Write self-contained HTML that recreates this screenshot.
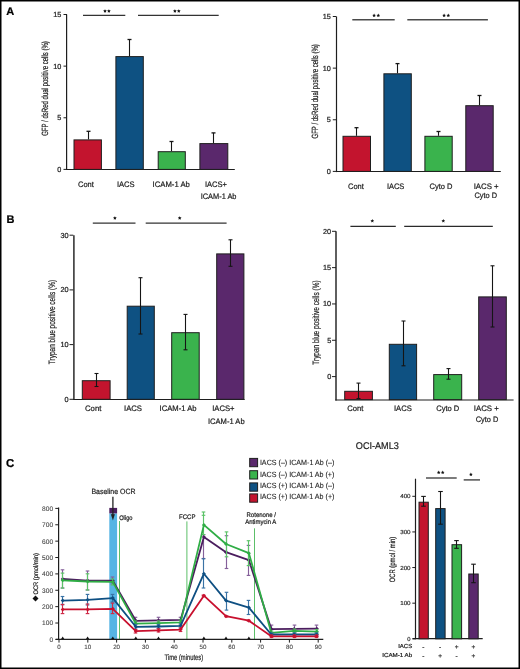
<!DOCTYPE html><html><head><meta charset="utf-8"><style>html,body{margin:0;padding:0;background:#fff;}svg{display:block;will-change:transform;}text{font-family:"Liberation Sans", sans-serif;text-rendering:geometricPrecision;stroke:currentColor;stroke-width:0.22px;}</style></head><body>
<svg width="520" height="669" viewBox="0 0 520 669">
<rect x="0" y="0" width="520" height="669" fill="#fff"/>
<text x="6.2" y="15.4" font-size="11" text-anchor="start" font-weight="bold" fill="#000" color="#000">A</text>
<text x="6.6" y="223.0" font-size="11" text-anchor="start" font-weight="bold" fill="#000" color="#000">B</text>
<text x="6.0" y="467.0" font-size="11.4" text-anchor="start" font-weight="bold" fill="#000" color="#000">C</text>
<line x1="66.6" y1="14.5" x2="66.6" y2="170.1" stroke="#1e1e1e" stroke-width="1.2"/>
<line x1="66" y1="169.5" x2="234.8" y2="169.5" stroke="#1e1e1e" stroke-width="1.15"/>
<line x1="63.5" y1="169.4" x2="67.0" y2="169.4" stroke="#1e1e1e" stroke-width="1"/>
<text x="61.4" y="171.9" font-size="7.3" text-anchor="end" font-weight="normal" fill="#1e1e1e" color="#1e1e1e">0</text>
<line x1="63.5" y1="117.76666666666668" x2="67.0" y2="117.76666666666668" stroke="#1e1e1e" stroke-width="1"/>
<text x="61.4" y="120.26666666666668" font-size="7.3" text-anchor="end" font-weight="normal" fill="#1e1e1e" color="#1e1e1e">5</text>
<line x1="63.5" y1="66.13333333333334" x2="67.0" y2="66.13333333333334" stroke="#1e1e1e" stroke-width="1"/>
<text x="61.4" y="68.63333333333334" font-size="7.3" text-anchor="end" font-weight="normal" fill="#1e1e1e" color="#1e1e1e">10</text>
<line x1="63.5" y1="14.5" x2="67.0" y2="14.5" stroke="#1e1e1e" stroke-width="1"/>
<text x="61.4" y="17.0" font-size="7.3" text-anchor="end" font-weight="normal" fill="#1e1e1e" color="#1e1e1e">15</text>
<rect x="74.0" y="139.9" width="27.400000000000006" height="29.5" fill="#C3142E" stroke="#1e1e1e" stroke-width="1"/>
<line x1="88.5" y1="131.3" x2="88.5" y2="139.4" stroke="#151515" stroke-width="1.1"/>
<line x1="86.5" y1="131.3" x2="90.5" y2="131.3" stroke="#151515" stroke-width="1.3"/>
<rect x="115.9" y="56.6" width="27.400000000000006" height="112.80000000000001" fill="#0E5182" stroke="#1e1e1e" stroke-width="1"/>
<line x1="129.5" y1="39.5" x2="129.5" y2="56.1" stroke="#151515" stroke-width="1.1"/>
<line x1="127.5" y1="39.5" x2="131.5" y2="39.5" stroke="#151515" stroke-width="1.3"/>
<rect x="158.2" y="151.7" width="27.100000000000023" height="17.700000000000017" fill="#3AB34D" stroke="#1e1e1e" stroke-width="1"/>
<line x1="171.5" y1="141.5" x2="171.5" y2="151.2" stroke="#151515" stroke-width="1.1"/>
<line x1="169.5" y1="141.5" x2="173.5" y2="141.5" stroke="#151515" stroke-width="1.3"/>
<rect x="199.9" y="143.6" width="27.900000000000006" height="25.80000000000001" fill="#5A286C" stroke="#1e1e1e" stroke-width="1"/>
<line x1="213.5" y1="132.9" x2="213.5" y2="143.1" stroke="#151515" stroke-width="1.1"/>
<line x1="211.5" y1="132.9" x2="215.5" y2="132.9" stroke="#151515" stroke-width="1.3"/>
<text x="85.9" y="186.8" font-size="7.9" text-anchor="middle" font-weight="normal" fill="#1e1e1e" color="#1e1e1e" textLength="15.8" lengthAdjust="spacingAndGlyphs">Cont</text>
<text x="125.8" y="186.8" font-size="7.9" text-anchor="middle" font-weight="normal" fill="#1e1e1e" color="#1e1e1e" textLength="17.7" lengthAdjust="spacingAndGlyphs">IACS</text>
<text x="171.2" y="186.8" font-size="7.9" text-anchor="middle" font-weight="normal" fill="#1e1e1e" color="#1e1e1e" textLength="37.2" lengthAdjust="spacingAndGlyphs">ICAM-1 Ab</text>
<text x="216" y="186.8" font-size="7.9" text-anchor="middle" font-weight="normal" fill="#1e1e1e" color="#1e1e1e" textLength="22" lengthAdjust="spacingAndGlyphs">IACS+</text>
<text x="218.6" y="198.7" font-size="7.9" text-anchor="middle" font-weight="normal" fill="#1e1e1e" color="#1e1e1e" textLength="35.8" lengthAdjust="spacingAndGlyphs">ICAM-1 Ab</text>
<line x1="83" y1="15.4" x2="125.3" y2="15.4" stroke="#333" stroke-width="1.2"/>
<line x1="138" y1="15.4" x2="218.7" y2="15.4" stroke="#333" stroke-width="1.2"/>
<path d="M105.00,9.20 L105.56,10.33 L106.81,10.51 L105.90,11.39 L106.12,12.64 L105.00,12.05 L103.88,12.64 L104.10,11.39 L103.19,10.51 L104.44,10.33 Z" fill="#111"/>
<path d="M108.90,9.20 L109.46,10.33 L110.71,10.51 L109.80,11.39 L110.02,12.64 L108.90,12.05 L107.78,12.64 L108.00,11.39 L107.09,10.51 L108.34,10.33 Z" fill="#111"/>
<path d="M174.90,9.20 L175.46,10.33 L176.71,10.51 L175.80,11.39 L176.02,12.64 L174.90,12.05 L173.78,12.64 L174.00,11.39 L173.09,10.51 L174.34,10.33 Z" fill="#111"/>
<path d="M178.80,9.20 L179.36,10.33 L180.61,10.51 L179.70,11.39 L179.92,12.64 L178.80,12.05 L177.68,12.64 L177.90,11.39 L176.99,10.51 L178.24,10.33 Z" fill="#111"/>
<text transform="translate(47.6,88.5) rotate(-90)" font-size="9.0" text-anchor="middle" font-weight="normal" fill="#1e1e1e" color="#1e1e1e" textLength="94.7" lengthAdjust="spacingAndGlyphs">GFP / dsRed dual positive cells (%)</text>
<line x1="336.5" y1="16.5" x2="336.5" y2="172.1" stroke="#1e1e1e" stroke-width="1.2"/>
<line x1="336" y1="171.5" x2="500.8" y2="171.5" stroke="#1e1e1e" stroke-width="1.15"/>
<line x1="332.8" y1="171.4" x2="336.3" y2="171.4" stroke="#1e1e1e" stroke-width="1"/>
<text x="330.9" y="173.9" font-size="7.3" text-anchor="end" font-weight="normal" fill="#1e1e1e" color="#1e1e1e">0</text>
<line x1="332.8" y1="119.76666666666668" x2="336.3" y2="119.76666666666668" stroke="#1e1e1e" stroke-width="1"/>
<text x="330.9" y="122.26666666666668" font-size="7.3" text-anchor="end" font-weight="normal" fill="#1e1e1e" color="#1e1e1e">5</text>
<line x1="332.8" y1="68.13333333333334" x2="336.3" y2="68.13333333333334" stroke="#1e1e1e" stroke-width="1"/>
<text x="330.9" y="70.63333333333334" font-size="7.3" text-anchor="end" font-weight="normal" fill="#1e1e1e" color="#1e1e1e">10</text>
<line x1="332.8" y1="16.5" x2="336.3" y2="16.5" stroke="#1e1e1e" stroke-width="1"/>
<text x="330.9" y="19.0" font-size="7.3" text-anchor="end" font-weight="normal" fill="#1e1e1e" color="#1e1e1e">15</text>
<rect x="343.0" y="136.3" width="27.5" height="35.099999999999994" fill="#C3142E" stroke="#1e1e1e" stroke-width="1"/>
<line x1="356.5" y1="127.7" x2="356.5" y2="135.8" stroke="#151515" stroke-width="1.1"/>
<line x1="354.5" y1="127.7" x2="358.5" y2="127.7" stroke="#151515" stroke-width="1.3"/>
<rect x="383.9" y="73.8" width="27.400000000000034" height="97.60000000000001" fill="#0E5182" stroke="#1e1e1e" stroke-width="1"/>
<line x1="397.5" y1="63.6" x2="397.5" y2="73.3" stroke="#151515" stroke-width="1.1"/>
<line x1="395.5" y1="63.6" x2="399.5" y2="63.6" stroke="#151515" stroke-width="1.3"/>
<rect x="424.9" y="136.3" width="27.30000000000001" height="35.099999999999994" fill="#3AB34D" stroke="#1e1e1e" stroke-width="1"/>
<line x1="438.5" y1="131.5" x2="438.5" y2="135.8" stroke="#151515" stroke-width="1.1"/>
<line x1="436.5" y1="131.5" x2="440.5" y2="131.5" stroke="#151515" stroke-width="1.3"/>
<rect x="465.8" y="105.7" width="27.399999999999977" height="65.7" fill="#5A286C" stroke="#1e1e1e" stroke-width="1"/>
<line x1="479.5" y1="95.5" x2="479.5" y2="105.2" stroke="#151515" stroke-width="1.1"/>
<line x1="477.5" y1="95.5" x2="481.5" y2="95.5" stroke="#151515" stroke-width="1.3"/>
<text x="355.9" y="188.9" font-size="7.9" text-anchor="middle" font-weight="normal" fill="#1e1e1e" color="#1e1e1e" textLength="15.8" lengthAdjust="spacingAndGlyphs">Cont</text>
<text x="395.6" y="188.9" font-size="7.9" text-anchor="middle" font-weight="normal" fill="#1e1e1e" color="#1e1e1e" textLength="17.4" lengthAdjust="spacingAndGlyphs">IACS</text>
<text x="441" y="188.9" font-size="7.9" text-anchor="middle" font-weight="normal" fill="#1e1e1e" color="#1e1e1e" textLength="23" lengthAdjust="spacingAndGlyphs">Cyto D</text>
<text x="486.2" y="188.9" font-size="7.9" text-anchor="middle" font-weight="normal" fill="#1e1e1e" color="#1e1e1e" textLength="25" lengthAdjust="spacingAndGlyphs">IACS +</text>
<text x="485.8" y="198.3" font-size="7.9" text-anchor="middle" font-weight="normal" fill="#1e1e1e" color="#1e1e1e" textLength="22.5" lengthAdjust="spacingAndGlyphs">Cyto D</text>
<line x1="352.3" y1="19.85" x2="394.7" y2="19.85" stroke="#4a4a4a" stroke-width="1.5"/>
<line x1="407.3" y1="19.85" x2="487.9" y2="19.85" stroke="#4a4a4a" stroke-width="1.5"/>
<path d="M374.10,13.60 L374.66,14.73 L375.91,14.91 L375.00,15.79 L375.22,17.04 L374.10,16.45 L372.98,17.04 L373.20,15.79 L372.29,14.91 L373.54,14.73 Z" fill="#111"/>
<path d="M378.30,13.60 L378.86,14.73 L380.11,14.91 L379.20,15.79 L379.42,17.04 L378.30,16.45 L377.18,17.04 L377.40,15.79 L376.49,14.91 L377.74,14.73 Z" fill="#111"/>
<path d="M444.10,13.60 L444.66,14.73 L445.91,14.91 L445.00,15.79 L445.22,17.04 L444.10,16.45 L442.98,17.04 L443.20,15.79 L442.29,14.91 L443.54,14.73 Z" fill="#111"/>
<path d="M448.30,13.60 L448.86,14.73 L450.11,14.91 L449.20,15.79 L449.42,17.04 L448.30,16.45 L447.18,17.04 L447.40,15.79 L446.49,14.91 L447.74,14.73 Z" fill="#111"/>
<text transform="translate(318.2,91.4) rotate(-90)" font-size="9.0" text-anchor="middle" font-weight="normal" fill="#1e1e1e" color="#1e1e1e" textLength="94.2" lengthAdjust="spacingAndGlyphs">GFP / dsRed dual positive cells (%)</text>
<line x1="73.9" y1="235.2" x2="73.9" y2="400.1" stroke="#2a2a2a" stroke-width="1.5"/>
<line x1="73.2" y1="399.5" x2="244.6" y2="399.5" stroke="#1e1e1e" stroke-width="1.2"/>
<line x1="69.5" y1="399.3" x2="73.3" y2="399.3" stroke="#1e1e1e" stroke-width="1"/>
<text x="68.6" y="401.8" font-size="7.3" text-anchor="end" font-weight="normal" fill="#1e1e1e" color="#1e1e1e">0</text>
<line x1="69.5" y1="344.6" x2="73.3" y2="344.6" stroke="#1e1e1e" stroke-width="1"/>
<text x="68.6" y="347.1" font-size="7.3" text-anchor="end" font-weight="normal" fill="#1e1e1e" color="#1e1e1e">10</text>
<line x1="69.5" y1="289.9" x2="73.3" y2="289.9" stroke="#1e1e1e" stroke-width="1"/>
<text x="68.6" y="292.4" font-size="7.3" text-anchor="end" font-weight="normal" fill="#1e1e1e" color="#1e1e1e">20</text>
<line x1="69.5" y1="235.2" x2="73.3" y2="235.2" stroke="#1e1e1e" stroke-width="1"/>
<text x="68.6" y="237.7" font-size="7.3" text-anchor="end" font-weight="normal" fill="#1e1e1e" color="#1e1e1e">30</text>
<rect x="82.3" y="380.7" width="27.799999999999997" height="18.600000000000023" fill="#C3142E" stroke="#1e1e1e" stroke-width="1"/>
<line x1="96.5" y1="373.5" x2="96.5" y2="386.5" stroke="#151515" stroke-width="1.1"/>
<line x1="94.5" y1="373.5" x2="98.5" y2="373.5" stroke="#151515" stroke-width="1.1"/>
<line x1="94.5" y1="386.5" x2="98.5" y2="386.5" stroke="#151515" stroke-width="1.1"/>
<rect x="127.2" y="306.2" width="27.10000000000001" height="93.10000000000002" fill="#0E5182" stroke="#1e1e1e" stroke-width="1"/>
<line x1="140.5" y1="277.7" x2="140.5" y2="334" stroke="#151515" stroke-width="1.1"/>
<line x1="138.5" y1="277.7" x2="142.5" y2="277.7" stroke="#151515" stroke-width="1.1"/>
<line x1="138.5" y1="334" x2="142.5" y2="334" stroke="#151515" stroke-width="1.1"/>
<rect x="171.7" y="332.7" width="27.5" height="66.60000000000002" fill="#3AB34D" stroke="#1e1e1e" stroke-width="1"/>
<line x1="185.5" y1="314.4" x2="185.5" y2="349.8" stroke="#151515" stroke-width="1.1"/>
<line x1="183.5" y1="314.4" x2="187.5" y2="314.4" stroke="#151515" stroke-width="1.1"/>
<line x1="183.5" y1="349.8" x2="187.5" y2="349.8" stroke="#151515" stroke-width="1.1"/>
<rect x="216.7" y="253.9" width="27.200000000000017" height="145.4" fill="#5A286C" stroke="#1e1e1e" stroke-width="1"/>
<line x1="230.5" y1="239.8" x2="230.5" y2="266.3" stroke="#151515" stroke-width="1.1"/>
<line x1="228.5" y1="239.8" x2="232.5" y2="239.8" stroke="#151515" stroke-width="1.1"/>
<line x1="228.5" y1="266.3" x2="232.5" y2="266.3" stroke="#151515" stroke-width="1.1"/>
<text x="93.2" y="411.1" font-size="7.9" text-anchor="middle" font-weight="normal" fill="#1e1e1e" color="#1e1e1e" textLength="16.3" lengthAdjust="spacingAndGlyphs">Cont</text>
<text x="133" y="411.1" font-size="7.9" text-anchor="middle" font-weight="normal" fill="#1e1e1e" color="#1e1e1e" textLength="18" lengthAdjust="spacingAndGlyphs">IACS</text>
<text x="178.1" y="411.1" font-size="7.9" text-anchor="middle" font-weight="normal" fill="#1e1e1e" color="#1e1e1e" textLength="37" lengthAdjust="spacingAndGlyphs">ICAM-1 Ab</text>
<text x="223.4" y="411.1" font-size="7.9" text-anchor="middle" font-weight="normal" fill="#1e1e1e" color="#1e1e1e" textLength="22.3" lengthAdjust="spacingAndGlyphs">IACS+</text>
<text x="226.3" y="423.8" font-size="7.9" text-anchor="middle" font-weight="normal" fill="#1e1e1e" color="#1e1e1e" textLength="36.6" lengthAdjust="spacingAndGlyphs">ICAM-1 Ab</text>
<line x1="92.8" y1="223.2" x2="135.5" y2="223.2" stroke="#333" stroke-width="1.2"/>
<line x1="145.7" y1="223.2" x2="226.6" y2="223.2" stroke="#333" stroke-width="1.2"/>
<path d="M114.90,216.20 L115.46,217.33 L116.71,217.51 L115.80,218.39 L116.02,219.64 L114.90,219.05 L113.78,219.64 L114.00,218.39 L113.09,217.51 L114.34,217.33 Z" fill="#111"/>
<path d="M179.70,216.20 L180.26,217.33 L181.51,217.51 L180.60,218.39 L180.82,219.64 L179.70,219.05 L178.58,219.64 L178.80,218.39 L177.89,217.51 L179.14,217.33 Z" fill="#111"/>
<text transform="translate(54.6,322) rotate(-90)" font-size="9.2" text-anchor="middle" font-weight="normal" fill="#1e1e1e" color="#1e1e1e" textLength="84.3" lengthAdjust="spacingAndGlyphs">Trypan blue positive cells (%)</text>
<line x1="336.0" y1="231.3" x2="336.0" y2="400.6" stroke="#2a2a2a" stroke-width="1.5"/>
<line x1="335.3" y1="400.0" x2="513.6" y2="400.0" stroke="#1e1e1e" stroke-width="1.2"/>
<line x1="332" y1="376.6" x2="336.0" y2="376.6" stroke="#1e1e1e" stroke-width="1"/>
<text x="331.2" y="379.1" font-size="7.3" text-anchor="end" font-weight="normal" fill="#1e1e1e" color="#1e1e1e">0</text>
<line x1="332" y1="340.27500000000003" x2="336.0" y2="340.27500000000003" stroke="#1e1e1e" stroke-width="1"/>
<text x="331.2" y="342.77500000000003" font-size="7.3" text-anchor="end" font-weight="normal" fill="#1e1e1e" color="#1e1e1e">5</text>
<line x1="332" y1="303.95000000000005" x2="336.0" y2="303.95000000000005" stroke="#1e1e1e" stroke-width="1"/>
<text x="331.2" y="306.45000000000005" font-size="7.3" text-anchor="end" font-weight="normal" fill="#1e1e1e" color="#1e1e1e">10</text>
<line x1="332" y1="267.625" x2="336.0" y2="267.625" stroke="#1e1e1e" stroke-width="1"/>
<text x="331.2" y="270.125" font-size="7.3" text-anchor="end" font-weight="normal" fill="#1e1e1e" color="#1e1e1e">15</text>
<line x1="332" y1="231.3" x2="336.0" y2="231.3" stroke="#1e1e1e" stroke-width="1"/>
<text x="331.2" y="233.8" font-size="7.3" text-anchor="end" font-weight="normal" fill="#1e1e1e" color="#1e1e1e">20</text>
<rect x="344.7" y="391.3" width="27.69999999999999" height="8.300000000000011" fill="#C3142E" stroke="#1e1e1e" stroke-width="1"/>
<line x1="358.5" y1="383.1" x2="358.5" y2="398.5" stroke="#151515" stroke-width="1.1"/>
<line x1="356.5" y1="383.1" x2="360.5" y2="383.1" stroke="#151515" stroke-width="1.1"/>
<line x1="356.5" y1="398.5" x2="360.5" y2="398.5" stroke="#151515" stroke-width="1.1"/>
<rect x="389.3" y="344.3" width="27.30000000000001" height="55.30000000000001" fill="#0E5182" stroke="#1e1e1e" stroke-width="1"/>
<line x1="403.5" y1="321" x2="403.5" y2="365.8" stroke="#151515" stroke-width="1.1"/>
<line x1="401.5" y1="321" x2="405.5" y2="321" stroke="#151515" stroke-width="1.1"/>
<line x1="401.5" y1="365.8" x2="405.5" y2="365.8" stroke="#151515" stroke-width="1.1"/>
<rect x="433.7" y="374.6" width="28.0" height="25.0" fill="#3AB34D" stroke="#1e1e1e" stroke-width="1"/>
<line x1="448.5" y1="368.6" x2="448.5" y2="379.2" stroke="#151515" stroke-width="1.1"/>
<line x1="446.5" y1="368.6" x2="450.5" y2="368.6" stroke="#151515" stroke-width="1.1"/>
<line x1="446.5" y1="379.2" x2="450.5" y2="379.2" stroke="#151515" stroke-width="1.1"/>
<rect x="478.7" y="296.9" width="27.600000000000023" height="102.70000000000005" fill="#5A286C" stroke="#1e1e1e" stroke-width="1"/>
<line x1="492.5" y1="265.8" x2="492.5" y2="327" stroke="#151515" stroke-width="1.1"/>
<line x1="490.5" y1="265.8" x2="494.5" y2="265.8" stroke="#151515" stroke-width="1.1"/>
<line x1="490.5" y1="327" x2="494.5" y2="327" stroke="#151515" stroke-width="1.1"/>
<text x="355.3" y="411.0" font-size="7.9" text-anchor="middle" font-weight="normal" fill="#1e1e1e" color="#1e1e1e" textLength="16.1" lengthAdjust="spacingAndGlyphs">Cont</text>
<text x="402.9" y="411.0" font-size="7.9" text-anchor="middle" font-weight="normal" fill="#1e1e1e" color="#1e1e1e" textLength="17.8" lengthAdjust="spacingAndGlyphs">IACS</text>
<text x="447.8" y="411.0" font-size="7.9" text-anchor="middle" font-weight="normal" fill="#1e1e1e" color="#1e1e1e" textLength="23" lengthAdjust="spacingAndGlyphs">Cyto D</text>
<text x="486.3" y="411.0" font-size="7.9" text-anchor="middle" font-weight="normal" fill="#1e1e1e" color="#1e1e1e" textLength="25" lengthAdjust="spacingAndGlyphs">IACS +</text>
<text x="487" y="421.7" font-size="7.9" text-anchor="middle" font-weight="normal" fill="#1e1e1e" color="#1e1e1e" textLength="22.5" lengthAdjust="spacingAndGlyphs">Cyto D</text>
<line x1="350.4" y1="226.3" x2="395.8" y2="226.3" stroke="#2a2a2a" stroke-width="1.2"/>
<line x1="404.2" y1="226.3" x2="492.8" y2="226.3" stroke="#2a2a2a" stroke-width="1.2"/>
<path d="M372.30,219.00 L372.86,220.13 L374.11,220.31 L373.20,221.19 L373.42,222.44 L372.30,221.85 L371.18,222.44 L371.40,221.19 L370.49,220.31 L371.74,220.13 Z" fill="#111"/>
<path d="M443.30,219.00 L443.86,220.13 L445.11,220.31 L444.20,221.19 L444.42,222.44 L443.30,221.85 L442.18,222.44 L442.40,221.19 L441.49,220.31 L442.74,220.13 Z" fill="#111"/>
<text transform="translate(318.6,322.6) rotate(-90)" font-size="9.2" text-anchor="middle" font-weight="normal" fill="#1e1e1e" color="#1e1e1e" textLength="84.3" lengthAdjust="spacingAndGlyphs">Trypan blue positive cells (%)</text>
<rect x="109.3" y="513.4" width="7.8" height="126.0" fill="#56B4E4"/>
<rect x="109.3" y="507.9" width="7.8" height="5.5" fill="#4b1d5e"/>
<line x1="119.5" y1="521" x2="119.5" y2="639.4" stroke="#5cbf69" stroke-width="1"/>
<line x1="186.9" y1="521.4" x2="186.9" y2="639.4" stroke="#5cbf69" stroke-width="1"/>
<line x1="254.5" y1="528.3" x2="254.5" y2="639.4" stroke="#5cbf69" stroke-width="1"/>
<line x1="58.6" y1="507.4" x2="58.6" y2="639.9" stroke="#1e1e1e" stroke-width="1.2"/>
<line x1="55.8" y1="639.4" x2="323.3" y2="639.4" stroke="#1e1e1e" stroke-width="1.2"/>
<line x1="55.3" y1="639.4" x2="58.9" y2="639.4" stroke="#1e1e1e" stroke-width="1"/>
<text x="53.1" y="641.8" font-size="6.6" text-anchor="end" font-weight="normal" fill="#444" color="#444" style="stroke-width:0.1px">0</text>
<line x1="55.3" y1="623.025" x2="58.9" y2="623.025" stroke="#1e1e1e" stroke-width="1"/>
<text x="53.1" y="625.425" font-size="6.6" text-anchor="end" font-weight="normal" fill="#444" color="#444" style="stroke-width:0.1px">100</text>
<line x1="55.3" y1="606.65" x2="58.9" y2="606.65" stroke="#1e1e1e" stroke-width="1"/>
<text x="53.1" y="609.05" font-size="6.6" text-anchor="end" font-weight="normal" fill="#444" color="#444" style="stroke-width:0.1px">200</text>
<line x1="55.3" y1="590.275" x2="58.9" y2="590.275" stroke="#1e1e1e" stroke-width="1"/>
<text x="53.1" y="592.675" font-size="6.6" text-anchor="end" font-weight="normal" fill="#444" color="#444" style="stroke-width:0.1px">300</text>
<line x1="55.3" y1="573.9" x2="58.9" y2="573.9" stroke="#1e1e1e" stroke-width="1"/>
<text x="53.1" y="576.3" font-size="6.6" text-anchor="end" font-weight="normal" fill="#444" color="#444" style="stroke-width:0.1px">400</text>
<line x1="55.3" y1="557.525" x2="58.9" y2="557.525" stroke="#1e1e1e" stroke-width="1"/>
<text x="53.1" y="559.925" font-size="6.6" text-anchor="end" font-weight="normal" fill="#444" color="#444" style="stroke-width:0.1px">500</text>
<line x1="55.3" y1="541.15" x2="58.9" y2="541.15" stroke="#1e1e1e" stroke-width="1"/>
<text x="53.1" y="543.55" font-size="6.6" text-anchor="end" font-weight="normal" fill="#444" color="#444" style="stroke-width:0.1px">600</text>
<line x1="55.3" y1="524.775" x2="58.9" y2="524.775" stroke="#1e1e1e" stroke-width="1"/>
<text x="53.1" y="527.175" font-size="6.6" text-anchor="end" font-weight="normal" fill="#444" color="#444" style="stroke-width:0.1px">700</text>
<line x1="55.3" y1="508.4" x2="58.9" y2="508.4" stroke="#1e1e1e" stroke-width="1"/>
<text x="53.1" y="510.79999999999995" font-size="6.6" text-anchor="end" font-weight="normal" fill="#444" color="#444" style="stroke-width:0.1px">800</text>
<line x1="59.0" y1="639.4" x2="59.0" y2="642.6" stroke="#1e1e1e" stroke-width="1"/>
<text x="59.0" y="648.8" font-size="6.2" text-anchor="middle" font-weight="normal" fill="#444" color="#444" style="stroke-width:0.1px">0</text>
<line x1="87.8" y1="639.4" x2="87.8" y2="642.6" stroke="#1e1e1e" stroke-width="1"/>
<text x="87.8" y="648.8" font-size="6.2" text-anchor="middle" font-weight="normal" fill="#444" color="#444" style="stroke-width:0.1px">10</text>
<line x1="116.6" y1="639.4" x2="116.6" y2="642.6" stroke="#1e1e1e" stroke-width="1"/>
<text x="116.6" y="648.8" font-size="6.2" text-anchor="middle" font-weight="normal" fill="#444" color="#444" style="stroke-width:0.1px">20</text>
<line x1="145.39999999999998" y1="639.4" x2="145.39999999999998" y2="642.6" stroke="#1e1e1e" stroke-width="1"/>
<text x="145.39999999999998" y="648.8" font-size="6.2" text-anchor="middle" font-weight="normal" fill="#444" color="#444" style="stroke-width:0.1px">30</text>
<line x1="174.2" y1="639.4" x2="174.2" y2="642.6" stroke="#1e1e1e" stroke-width="1"/>
<text x="174.2" y="648.8" font-size="6.2" text-anchor="middle" font-weight="normal" fill="#444" color="#444" style="stroke-width:0.1px">40</text>
<line x1="203.0" y1="639.4" x2="203.0" y2="642.6" stroke="#1e1e1e" stroke-width="1"/>
<text x="203.0" y="648.8" font-size="6.2" text-anchor="middle" font-weight="normal" fill="#444" color="#444" style="stroke-width:0.1px">50</text>
<line x1="231.79999999999998" y1="639.4" x2="231.79999999999998" y2="642.6" stroke="#1e1e1e" stroke-width="1"/>
<text x="231.79999999999998" y="648.8" font-size="6.2" text-anchor="middle" font-weight="normal" fill="#444" color="#444" style="stroke-width:0.1px">60</text>
<line x1="260.6" y1="639.4" x2="260.6" y2="642.6" stroke="#1e1e1e" stroke-width="1"/>
<text x="260.6" y="648.8" font-size="6.2" text-anchor="middle" font-weight="normal" fill="#444" color="#444" style="stroke-width:0.1px">70</text>
<line x1="289.4" y1="639.4" x2="289.4" y2="642.6" stroke="#1e1e1e" stroke-width="1"/>
<text x="289.4" y="648.8" font-size="6.2" text-anchor="middle" font-weight="normal" fill="#444" color="#444" style="stroke-width:0.1px">80</text>
<line x1="318.2" y1="639.4" x2="318.2" y2="642.6" stroke="#1e1e1e" stroke-width="1"/>
<text x="318.2" y="648.8" font-size="6.2" text-anchor="middle" font-weight="normal" fill="#444" color="#444" style="stroke-width:0.1px">90</text>
<text x="164.6" y="660" font-size="8" text-anchor="start" font-weight="normal" fill="#1e1e1e" color="#1e1e1e" textLength="38.5" lengthAdjust="spacingAndGlyphs">Time (minutes)</text>
<text transform="translate(37.9,573.8) rotate(-90)" font-size="6.6" text-anchor="middle" font-weight="normal" fill="#1e1e1e" color="#1e1e1e" textLength="41.5" lengthAdjust="spacingAndGlyphs">OCR (pmol/min)</text>
<path d="M35.5,595.6 L38.5,598.6 L35.5,601.6 L32.5,598.6 Z" fill="#111"/>
<path d="M61.1,639.0 L62.7,636.4 L64.3,639.0 Z" fill="#111"/>
<path d="M86.0,639.0 L87.6,636.4 L89.19999999999999,639.0 Z" fill="#111"/>
<path d="M111.2,639.0 L112.8,636.4 L114.39999999999999,639.0 Z" fill="#111"/>
<path d="M134.20000000000002,639.0 L135.8,636.4 L137.4,639.0 Z" fill="#111"/>
<path d="M156.9,639.0 L158.5,636.4 L160.1,639.0 Z" fill="#111"/>
<path d="M202.3,639.0 L203.9,636.4 L205.5,639.0 Z" fill="#111"/>
<path d="M224.4,639.0 L226.0,636.4 L227.6,639.0 Z" fill="#111"/>
<path d="M247.3,639.0 L248.9,636.4 L250.5,639.0 Z" fill="#111"/>
<line x1="62.5" y1="569.8" x2="62.5" y2="588" stroke="#85609a" stroke-width="1.15"/>
<line x1="60.7" y1="569.8" x2="64.3" y2="569.8" stroke="#85609a" stroke-width="1.15"/>
<line x1="60.7" y1="588" x2="64.3" y2="588" stroke="#85609a" stroke-width="1.15"/>
<line x1="87.5" y1="571" x2="87.5" y2="590" stroke="#85609a" stroke-width="1.15"/>
<line x1="85.7" y1="571" x2="89.3" y2="571" stroke="#85609a" stroke-width="1.15"/>
<line x1="85.7" y1="590" x2="89.3" y2="590" stroke="#85609a" stroke-width="1.15"/>
<line x1="112.5" y1="577" x2="112.5" y2="584" stroke="#85609a" stroke-width="1.15"/>
<line x1="110.7" y1="577" x2="114.3" y2="577" stroke="#85609a" stroke-width="1.15"/>
<line x1="110.7" y1="584" x2="114.3" y2="584" stroke="#85609a" stroke-width="1.15"/>
<line x1="135.5" y1="617.3" x2="135.5" y2="624" stroke="#85609a" stroke-width="1.15"/>
<line x1="133.7" y1="617.3" x2="137.3" y2="617.3" stroke="#85609a" stroke-width="1.15"/>
<line x1="133.7" y1="624" x2="137.3" y2="624" stroke="#85609a" stroke-width="1.15"/>
<line x1="158.5" y1="617.3" x2="158.5" y2="623.5" stroke="#85609a" stroke-width="1.15"/>
<line x1="156.7" y1="617.3" x2="160.3" y2="617.3" stroke="#85609a" stroke-width="1.15"/>
<line x1="156.7" y1="623.5" x2="160.3" y2="623.5" stroke="#85609a" stroke-width="1.15"/>
<line x1="180.5" y1="617.3" x2="180.5" y2="622.5" stroke="#85609a" stroke-width="1.15"/>
<line x1="178.7" y1="617.3" x2="182.3" y2="617.3" stroke="#85609a" stroke-width="1.15"/>
<line x1="178.7" y1="622.5" x2="182.3" y2="622.5" stroke="#85609a" stroke-width="1.15"/>
<line x1="203.5" y1="534.6" x2="203.5" y2="558.5" stroke="#85609a" stroke-width="1.15"/>
<line x1="201.7" y1="534.6" x2="205.3" y2="534.6" stroke="#85609a" stroke-width="1.15"/>
<line x1="201.7" y1="558.5" x2="205.3" y2="558.5" stroke="#85609a" stroke-width="1.15"/>
<line x1="226.5" y1="535.7" x2="226.5" y2="568.5" stroke="#85609a" stroke-width="1.15"/>
<line x1="224.7" y1="535.7" x2="228.3" y2="535.7" stroke="#85609a" stroke-width="1.15"/>
<line x1="224.7" y1="568.5" x2="228.3" y2="568.5" stroke="#85609a" stroke-width="1.15"/>
<line x1="248.5" y1="545.4" x2="248.5" y2="575.4" stroke="#85609a" stroke-width="1.15"/>
<line x1="246.7" y1="545.4" x2="250.3" y2="545.4" stroke="#85609a" stroke-width="1.15"/>
<line x1="246.7" y1="575.4" x2="250.3" y2="575.4" stroke="#85609a" stroke-width="1.15"/>
<line x1="271.5" y1="625.1" x2="271.5" y2="633" stroke="#85609a" stroke-width="1.15"/>
<line x1="269.7" y1="625.1" x2="273.3" y2="625.1" stroke="#85609a" stroke-width="1.15"/>
<line x1="269.7" y1="633" x2="273.3" y2="633" stroke="#85609a" stroke-width="1.15"/>
<line x1="294.5" y1="625.1" x2="294.5" y2="632.7" stroke="#85609a" stroke-width="1.15"/>
<line x1="292.7" y1="625.1" x2="296.3" y2="625.1" stroke="#85609a" stroke-width="1.15"/>
<line x1="292.7" y1="632.7" x2="296.3" y2="632.7" stroke="#85609a" stroke-width="1.15"/>
<line x1="316.5" y1="625.1" x2="316.5" y2="632.3" stroke="#85609a" stroke-width="1.15"/>
<line x1="314.7" y1="625.1" x2="318.3" y2="625.1" stroke="#85609a" stroke-width="1.15"/>
<line x1="314.7" y1="632.3" x2="318.3" y2="632.3" stroke="#85609a" stroke-width="1.15"/>
<polyline points="62.7,579.0 87.6,580.6 112.8,580.6 135.8,620.8 158.5,620.4 180.6,619.9 203.9,537.0 226.0,552.2 248.9,560.2 271.3,629.1 294.1,628.9 316.9,628.7" fill="none" stroke="#4b1d5e" stroke-width="1.8" stroke-linejoin="round"/>
<path d="M60.7,579.0 L62.7,577.0 L64.7,579.0 L62.7,581.0 Z" fill="#4b1d5e"/>
<path d="M85.6,580.6 L87.6,578.6 L89.6,580.6 L87.6,582.6 Z" fill="#4b1d5e"/>
<path d="M110.8,580.6 L112.8,578.6 L114.8,580.6 L112.8,582.6 Z" fill="#4b1d5e"/>
<path d="M133.8,620.8 L135.8,618.8 L137.8,620.8 L135.8,622.8 Z" fill="#4b1d5e"/>
<path d="M156.5,620.4 L158.5,618.4 L160.5,620.4 L158.5,622.4 Z" fill="#4b1d5e"/>
<path d="M178.6,619.9 L180.6,617.9 L182.6,619.9 L180.6,621.9 Z" fill="#4b1d5e"/>
<path d="M201.9,537.0 L203.9,535.0 L205.9,537.0 L203.9,539.0 Z" fill="#4b1d5e"/>
<path d="M224.0,552.2 L226.0,550.2 L228.0,552.2 L226.0,554.2 Z" fill="#4b1d5e"/>
<path d="M246.9,560.2 L248.9,558.2 L250.9,560.2 L248.9,562.2 Z" fill="#4b1d5e"/>
<path d="M269.3,629.1 L271.3,627.1 L273.3,629.1 L271.3,631.1 Z" fill="#4b1d5e"/>
<path d="M292.1,628.9 L294.1,626.9 L296.1,628.9 L294.1,630.9 Z" fill="#4b1d5e"/>
<path d="M314.9,628.7 L316.9,626.7 L318.9,628.7 L316.9,630.7 Z" fill="#4b1d5e"/>
<line x1="62.5" y1="573.1" x2="62.5" y2="588.1" stroke="#5cc368" stroke-width="1.15"/>
<line x1="60.7" y1="573.1" x2="64.3" y2="573.1" stroke="#5cc368" stroke-width="1.15"/>
<line x1="60.7" y1="588.1" x2="64.3" y2="588.1" stroke="#5cc368" stroke-width="1.15"/>
<line x1="87.5" y1="573.8" x2="87.5" y2="590" stroke="#5cc368" stroke-width="1.15"/>
<line x1="85.7" y1="573.8" x2="89.3" y2="573.8" stroke="#5cc368" stroke-width="1.15"/>
<line x1="85.7" y1="590" x2="89.3" y2="590" stroke="#5cc368" stroke-width="1.15"/>
<line x1="112.5" y1="579" x2="112.5" y2="585" stroke="#5cc368" stroke-width="1.15"/>
<line x1="110.7" y1="579" x2="114.3" y2="579" stroke="#5cc368" stroke-width="1.15"/>
<line x1="110.7" y1="585" x2="114.3" y2="585" stroke="#5cc368" stroke-width="1.15"/>
<line x1="135.5" y1="621" x2="135.5" y2="626" stroke="#5cc368" stroke-width="1.15"/>
<line x1="133.7" y1="621" x2="137.3" y2="621" stroke="#5cc368" stroke-width="1.15"/>
<line x1="133.7" y1="626" x2="137.3" y2="626" stroke="#5cc368" stroke-width="1.15"/>
<line x1="158.5" y1="621" x2="158.5" y2="625.5" stroke="#5cc368" stroke-width="1.15"/>
<line x1="156.7" y1="621" x2="160.3" y2="621" stroke="#5cc368" stroke-width="1.15"/>
<line x1="156.7" y1="625.5" x2="160.3" y2="625.5" stroke="#5cc368" stroke-width="1.15"/>
<line x1="180.5" y1="620" x2="180.5" y2="625" stroke="#5cc368" stroke-width="1.15"/>
<line x1="178.7" y1="620" x2="182.3" y2="620" stroke="#5cc368" stroke-width="1.15"/>
<line x1="178.7" y1="625" x2="182.3" y2="625" stroke="#5cc368" stroke-width="1.15"/>
<line x1="203.5" y1="512.0" x2="203.5" y2="534.6" stroke="#5cc368" stroke-width="1.15"/>
<line x1="201.7" y1="512.0" x2="205.3" y2="512.0" stroke="#5cc368" stroke-width="1.15"/>
<line x1="201.7" y1="534.6" x2="205.3" y2="534.6" stroke="#5cc368" stroke-width="1.15"/>
<line x1="226.5" y1="531.9" x2="226.5" y2="556.8" stroke="#5cc368" stroke-width="1.15"/>
<line x1="224.7" y1="531.9" x2="228.3" y2="531.9" stroke="#5cc368" stroke-width="1.15"/>
<line x1="224.7" y1="556.8" x2="228.3" y2="556.8" stroke="#5cc368" stroke-width="1.15"/>
<line x1="248.5" y1="540.7" x2="248.5" y2="565.6" stroke="#5cc368" stroke-width="1.15"/>
<line x1="246.7" y1="540.7" x2="250.3" y2="540.7" stroke="#5cc368" stroke-width="1.15"/>
<line x1="246.7" y1="565.6" x2="250.3" y2="565.6" stroke="#5cc368" stroke-width="1.15"/>
<line x1="271.5" y1="631" x2="271.5" y2="634.5" stroke="#5cc368" stroke-width="1.15"/>
<line x1="269.7" y1="631" x2="273.3" y2="631" stroke="#5cc368" stroke-width="1.15"/>
<line x1="269.7" y1="634.5" x2="273.3" y2="634.5" stroke="#5cc368" stroke-width="1.15"/>
<line x1="294.5" y1="629" x2="294.5" y2="633" stroke="#5cc368" stroke-width="1.15"/>
<line x1="292.7" y1="629" x2="296.3" y2="629" stroke="#5cc368" stroke-width="1.15"/>
<line x1="292.7" y1="633" x2="296.3" y2="633" stroke="#5cc368" stroke-width="1.15"/>
<line x1="316.5" y1="629.5" x2="316.5" y2="633.5" stroke="#5cc368" stroke-width="1.15"/>
<line x1="314.7" y1="629.5" x2="318.3" y2="629.5" stroke="#5cc368" stroke-width="1.15"/>
<line x1="314.7" y1="633.5" x2="318.3" y2="633.5" stroke="#5cc368" stroke-width="1.15"/>
<polyline points="62.7,580.3 87.6,581.5 112.8,581.9 135.8,623.6 158.5,623.2 180.6,622.4 203.9,524.9 226.0,544.0 248.9,553.2 271.3,632.8 294.1,630.9 316.9,631.6" fill="none" stroke="#2fad45" stroke-width="1.8" stroke-linejoin="round"/>
<path d="M60.7,580.3 L62.7,578.3 L64.7,580.3 L62.7,582.3 Z" fill="#2fad45"/>
<path d="M85.6,581.5 L87.6,579.5 L89.6,581.5 L87.6,583.5 Z" fill="#2fad45"/>
<path d="M110.8,581.9 L112.8,579.9 L114.8,581.9 L112.8,583.9 Z" fill="#2fad45"/>
<path d="M133.8,623.6 L135.8,621.6 L137.8,623.6 L135.8,625.6 Z" fill="#2fad45"/>
<path d="M156.5,623.2 L158.5,621.2 L160.5,623.2 L158.5,625.2 Z" fill="#2fad45"/>
<path d="M178.6,622.4 L180.6,620.4 L182.6,622.4 L180.6,624.4 Z" fill="#2fad45"/>
<path d="M201.9,524.9 L203.9,522.9 L205.9,524.9 L203.9,526.9 Z" fill="#2fad45"/>
<path d="M224.0,544.0 L226.0,542.0 L228.0,544.0 L226.0,546.0 Z" fill="#2fad45"/>
<path d="M246.9,553.2 L248.9,551.2 L250.9,553.2 L248.9,555.2 Z" fill="#2fad45"/>
<path d="M269.3,632.8 L271.3,630.8 L273.3,632.8 L271.3,634.8 Z" fill="#2fad45"/>
<path d="M292.1,630.9 L294.1,628.9 L296.1,630.9 L294.1,632.9 Z" fill="#2fad45"/>
<path d="M314.9,631.6 L316.9,629.6 L318.9,631.6 L316.9,633.6 Z" fill="#2fad45"/>
<line x1="62.5" y1="596.5" x2="62.5" y2="604.8" stroke="#3a73a5" stroke-width="1.15"/>
<line x1="60.7" y1="596.5" x2="64.3" y2="596.5" stroke="#3a73a5" stroke-width="1.15"/>
<line x1="60.7" y1="604.8" x2="64.3" y2="604.8" stroke="#3a73a5" stroke-width="1.15"/>
<line x1="87.5" y1="594.4" x2="87.5" y2="605" stroke="#3a73a5" stroke-width="1.15"/>
<line x1="85.7" y1="594.4" x2="89.3" y2="594.4" stroke="#3a73a5" stroke-width="1.15"/>
<line x1="85.7" y1="605" x2="89.3" y2="605" stroke="#3a73a5" stroke-width="1.15"/>
<line x1="112.5" y1="594.4" x2="112.5" y2="602" stroke="#3a73a5" stroke-width="1.15"/>
<line x1="110.7" y1="594.4" x2="114.3" y2="594.4" stroke="#3a73a5" stroke-width="1.15"/>
<line x1="110.7" y1="602" x2="114.3" y2="602" stroke="#3a73a5" stroke-width="1.15"/>
<line x1="135.5" y1="624.5" x2="135.5" y2="629" stroke="#3a73a5" stroke-width="1.15"/>
<line x1="133.7" y1="624.5" x2="137.3" y2="624.5" stroke="#3a73a5" stroke-width="1.15"/>
<line x1="133.7" y1="629" x2="137.3" y2="629" stroke="#3a73a5" stroke-width="1.15"/>
<line x1="158.5" y1="624.5" x2="158.5" y2="628.5" stroke="#3a73a5" stroke-width="1.15"/>
<line x1="156.7" y1="624.5" x2="160.3" y2="624.5" stroke="#3a73a5" stroke-width="1.15"/>
<line x1="156.7" y1="628.5" x2="160.3" y2="628.5" stroke="#3a73a5" stroke-width="1.15"/>
<line x1="180.5" y1="623.8" x2="180.5" y2="628" stroke="#3a73a5" stroke-width="1.15"/>
<line x1="178.7" y1="623.8" x2="182.3" y2="623.8" stroke="#3a73a5" stroke-width="1.15"/>
<line x1="178.7" y1="628" x2="182.3" y2="628" stroke="#3a73a5" stroke-width="1.15"/>
<line x1="203.5" y1="558.8" x2="203.5" y2="588.0" stroke="#3a73a5" stroke-width="1.15"/>
<line x1="201.7" y1="558.8" x2="205.3" y2="558.8" stroke="#3a73a5" stroke-width="1.15"/>
<line x1="201.7" y1="588.0" x2="205.3" y2="588.0" stroke="#3a73a5" stroke-width="1.15"/>
<line x1="226.5" y1="592.3" x2="226.5" y2="610.1" stroke="#3a73a5" stroke-width="1.15"/>
<line x1="224.7" y1="592.3" x2="228.3" y2="592.3" stroke="#3a73a5" stroke-width="1.15"/>
<line x1="224.7" y1="610.1" x2="228.3" y2="610.1" stroke="#3a73a5" stroke-width="1.15"/>
<line x1="248.5" y1="600.4" x2="248.5" y2="614.5" stroke="#3a73a5" stroke-width="1.15"/>
<line x1="246.7" y1="600.4" x2="250.3" y2="600.4" stroke="#3a73a5" stroke-width="1.15"/>
<line x1="246.7" y1="614.5" x2="250.3" y2="614.5" stroke="#3a73a5" stroke-width="1.15"/>
<line x1="271.5" y1="633" x2="271.5" y2="636" stroke="#3a73a5" stroke-width="1.15"/>
<line x1="269.7" y1="633" x2="273.3" y2="633" stroke="#3a73a5" stroke-width="1.15"/>
<line x1="269.7" y1="636" x2="273.3" y2="636" stroke="#3a73a5" stroke-width="1.15"/>
<line x1="294.5" y1="633" x2="294.5" y2="636" stroke="#3a73a5" stroke-width="1.15"/>
<line x1="292.7" y1="633" x2="296.3" y2="633" stroke="#3a73a5" stroke-width="1.15"/>
<line x1="292.7" y1="636" x2="296.3" y2="636" stroke="#3a73a5" stroke-width="1.15"/>
<line x1="316.5" y1="633" x2="316.5" y2="636" stroke="#3a73a5" stroke-width="1.15"/>
<line x1="314.7" y1="633" x2="318.3" y2="633" stroke="#3a73a5" stroke-width="1.15"/>
<line x1="314.7" y1="636" x2="318.3" y2="636" stroke="#3a73a5" stroke-width="1.15"/>
<polyline points="62.7,600.6 87.6,599.8 112.8,598.1 135.8,626.8 158.5,626.5 180.6,625.8 203.9,573.7 226.0,600.6 248.9,607.6 271.3,634.5 294.1,634.5 316.9,634.5" fill="none" stroke="#0e4f82" stroke-width="1.8" stroke-linejoin="round"/>
<path d="M60.7,600.6 L62.7,598.6 L64.7,600.6 L62.7,602.6 Z" fill="#0e4f82"/>
<path d="M85.6,599.8 L87.6,597.8 L89.6,599.8 L87.6,601.8 Z" fill="#0e4f82"/>
<path d="M110.8,598.1 L112.8,596.1 L114.8,598.1 L112.8,600.1 Z" fill="#0e4f82"/>
<path d="M133.8,626.8 L135.8,624.8 L137.8,626.8 L135.8,628.8 Z" fill="#0e4f82"/>
<path d="M156.5,626.5 L158.5,624.5 L160.5,626.5 L158.5,628.5 Z" fill="#0e4f82"/>
<path d="M178.6,625.8 L180.6,623.8 L182.6,625.8 L180.6,627.8 Z" fill="#0e4f82"/>
<path d="M201.9,573.7 L203.9,571.7 L205.9,573.7 L203.9,575.7 Z" fill="#0e4f82"/>
<path d="M224.0,600.6 L226.0,598.6 L228.0,600.6 L226.0,602.6 Z" fill="#0e4f82"/>
<path d="M246.9,607.6 L248.9,605.6 L250.9,607.6 L248.9,609.6 Z" fill="#0e4f82"/>
<path d="M269.3,634.5 L271.3,632.5 L273.3,634.5 L271.3,636.5 Z" fill="#0e4f82"/>
<path d="M292.1,634.5 L294.1,632.5 L296.1,634.5 L294.1,636.5 Z" fill="#0e4f82"/>
<path d="M314.9,634.5 L316.9,632.5 L318.9,634.5 L316.9,636.5 Z" fill="#0e4f82"/>
<line x1="62.5" y1="604.4" x2="62.5" y2="613.6" stroke="#cf2a48" stroke-width="1.15"/>
<line x1="60.7" y1="604.4" x2="64.3" y2="604.4" stroke="#cf2a48" stroke-width="1.15"/>
<line x1="60.7" y1="613.6" x2="64.3" y2="613.6" stroke="#cf2a48" stroke-width="1.15"/>
<line x1="87.5" y1="604.0" x2="87.5" y2="613.6" stroke="#cf2a48" stroke-width="1.15"/>
<line x1="85.7" y1="604.0" x2="89.3" y2="604.0" stroke="#cf2a48" stroke-width="1.15"/>
<line x1="85.7" y1="613.6" x2="89.3" y2="613.6" stroke="#cf2a48" stroke-width="1.15"/>
<line x1="112.5" y1="603.1" x2="112.5" y2="613.6" stroke="#cf2a48" stroke-width="1.15"/>
<line x1="110.7" y1="603.1" x2="114.3" y2="603.1" stroke="#cf2a48" stroke-width="1.15"/>
<line x1="110.7" y1="613.6" x2="114.3" y2="613.6" stroke="#cf2a48" stroke-width="1.15"/>
<line x1="135.5" y1="629.5" x2="135.5" y2="633" stroke="#cf2a48" stroke-width="1.15"/>
<line x1="133.7" y1="629.5" x2="137.3" y2="629.5" stroke="#cf2a48" stroke-width="1.15"/>
<line x1="133.7" y1="633" x2="137.3" y2="633" stroke="#cf2a48" stroke-width="1.15"/>
<line x1="158.5" y1="628.8" x2="158.5" y2="632" stroke="#cf2a48" stroke-width="1.15"/>
<line x1="156.7" y1="628.8" x2="160.3" y2="628.8" stroke="#cf2a48" stroke-width="1.15"/>
<line x1="156.7" y1="632" x2="160.3" y2="632" stroke="#cf2a48" stroke-width="1.15"/>
<line x1="180.5" y1="628" x2="180.5" y2="631.5" stroke="#cf2a48" stroke-width="1.15"/>
<line x1="178.7" y1="628" x2="182.3" y2="628" stroke="#cf2a48" stroke-width="1.15"/>
<line x1="178.7" y1="631.5" x2="182.3" y2="631.5" stroke="#cf2a48" stroke-width="1.15"/>
<line x1="203.5" y1="595" x2="203.5" y2="596" stroke="#cf2a48" stroke-width="1.15"/>
<line x1="201.7" y1="595" x2="205.3" y2="595" stroke="#cf2a48" stroke-width="1.15"/>
<line x1="201.7" y1="596" x2="205.3" y2="596" stroke="#cf2a48" stroke-width="1.15"/>
<line x1="226.5" y1="616" x2="226.5" y2="617" stroke="#cf2a48" stroke-width="1.15"/>
<line x1="224.7" y1="616" x2="228.3" y2="616" stroke="#cf2a48" stroke-width="1.15"/>
<line x1="224.7" y1="617" x2="228.3" y2="617" stroke="#cf2a48" stroke-width="1.15"/>
<line x1="248.5" y1="620" x2="248.5" y2="621" stroke="#cf2a48" stroke-width="1.15"/>
<line x1="246.7" y1="620" x2="250.3" y2="620" stroke="#cf2a48" stroke-width="1.15"/>
<line x1="246.7" y1="621" x2="250.3" y2="621" stroke="#cf2a48" stroke-width="1.15"/>
<line x1="271.5" y1="635" x2="271.5" y2="637.5" stroke="#cf2a48" stroke-width="1.15"/>
<line x1="269.7" y1="635" x2="273.3" y2="635" stroke="#cf2a48" stroke-width="1.15"/>
<line x1="269.7" y1="637.5" x2="273.3" y2="637.5" stroke="#cf2a48" stroke-width="1.15"/>
<line x1="294.5" y1="635" x2="294.5" y2="637.5" stroke="#cf2a48" stroke-width="1.15"/>
<line x1="292.7" y1="635" x2="296.3" y2="635" stroke="#cf2a48" stroke-width="1.15"/>
<line x1="292.7" y1="637.5" x2="296.3" y2="637.5" stroke="#cf2a48" stroke-width="1.15"/>
<line x1="316.5" y1="635" x2="316.5" y2="637.5" stroke="#cf2a48" stroke-width="1.15"/>
<line x1="314.7" y1="635" x2="318.3" y2="635" stroke="#cf2a48" stroke-width="1.15"/>
<line x1="314.7" y1="637.5" x2="318.3" y2="637.5" stroke="#cf2a48" stroke-width="1.15"/>
<polyline points="62.7,609.4 87.6,609.4 112.8,608.8 135.8,631.2 158.5,630.4 180.6,629.6 203.9,595.7 226.0,616.2 248.9,620.7 271.3,636.3 294.1,636.3 316.9,636.3" fill="none" stroke="#c8102e" stroke-width="1.8" stroke-linejoin="round"/>
<path d="M60.7,609.4 L62.7,607.4 L64.7,609.4 L62.7,611.4 Z" fill="#c8102e"/>
<path d="M85.6,609.4 L87.6,607.4 L89.6,609.4 L87.6,611.4 Z" fill="#c8102e"/>
<path d="M110.8,608.8 L112.8,606.8 L114.8,608.8 L112.8,610.8 Z" fill="#c8102e"/>
<path d="M133.8,631.2 L135.8,629.2 L137.8,631.2 L135.8,633.2 Z" fill="#c8102e"/>
<path d="M156.5,630.4 L158.5,628.4 L160.5,630.4 L158.5,632.4 Z" fill="#c8102e"/>
<path d="M178.6,629.6 L180.6,627.6 L182.6,629.6 L180.6,631.6 Z" fill="#c8102e"/>
<path d="M201.9,595.7 L203.9,593.7 L205.9,595.7 L203.9,597.7 Z" fill="#c8102e"/>
<path d="M224.0,616.2 L226.0,614.2 L228.0,616.2 L226.0,618.2 Z" fill="#c8102e"/>
<path d="M246.9,620.7 L248.9,618.7 L250.9,620.7 L248.9,622.7 Z" fill="#c8102e"/>
<path d="M269.3,636.3 L271.3,634.3 L273.3,636.3 L271.3,638.3 Z" fill="#c8102e"/>
<path d="M292.1,636.3 L294.1,634.3 L296.1,636.3 L294.1,638.3 Z" fill="#c8102e"/>
<path d="M314.9,636.3 L316.9,634.3 L318.9,636.3 L316.9,638.3 Z" fill="#c8102e"/>
<line x1="201.7" y1="515.3" x2="205.3" y2="515.3" stroke="#5cc368" stroke-width="1.15"/>
<line x1="112.9" y1="496.8" x2="112.9" y2="515.5" stroke="#222" stroke-width="1.3"/>
<path d="M110.9,514.2 L114.9,514.2 L112.9,520.4 Z" fill="#222"/>
<text x="91.4" y="493.9" font-size="7.6" text-anchor="start" font-weight="normal" fill="#1e1e1e" color="#1e1e1e" textLength="44.1" lengthAdjust="spacingAndGlyphs">Baseline OCR</text>
<text x="119.2" y="520" font-size="6.6" text-anchor="start" font-weight="normal" fill="#1e1e1e" color="#1e1e1e" textLength="13.3" lengthAdjust="spacingAndGlyphs">Oligo</text>
<text x="179" y="519" font-size="6.6" text-anchor="start" font-weight="normal" fill="#1e1e1e" color="#1e1e1e" textLength="16.4" lengthAdjust="spacingAndGlyphs">FCCP</text>
<text x="246.5" y="517.0" font-size="6.6" text-anchor="start" font-weight="normal" fill="#1e1e1e" color="#1e1e1e" textLength="29.5" lengthAdjust="spacingAndGlyphs">Rotenone /</text>
<text x="245.2" y="524.4" font-size="6.6" text-anchor="start" font-weight="normal" fill="#1e1e1e" color="#1e1e1e" textLength="31.1" lengthAdjust="spacingAndGlyphs">Antimycin A</text>
<rect x="249.7" y="458.4" width="7.9" height="8.3" fill="#5A286C" stroke="#1e1e1e" stroke-width="1"/>
<text x="259.9" y="464.7" font-size="7.6" text-anchor="start" font-weight="normal" fill="#1e1e1e" color="#1e1e1e" textLength="74.5" lengthAdjust="spacingAndGlyphs" style="stroke-width:0.1px">IACS (–) ICAM-1 Ab (–)</text>
<rect x="249.7" y="470.7" width="7.9" height="8.3" fill="#3AB34D" stroke="#1e1e1e" stroke-width="1"/>
<text x="259.9" y="476.8" font-size="7.6" text-anchor="start" font-weight="normal" fill="#1e1e1e" color="#1e1e1e" textLength="74.5" lengthAdjust="spacingAndGlyphs" style="stroke-width:0.1px">IACS (–) ICAM-1 Ab (+)</text>
<rect x="249.7" y="482.9" width="7.9" height="8.3" fill="#0E5182" stroke="#1e1e1e" stroke-width="1"/>
<text x="259.9" y="488.3" font-size="7.6" text-anchor="start" font-weight="normal" fill="#1e1e1e" color="#1e1e1e" textLength="74.5" lengthAdjust="spacingAndGlyphs" style="stroke-width:0.1px">IACS (+) ICAM-1 Ab (–)</text>
<rect x="249.7" y="493.9" width="7.9" height="8.3" fill="#C3142E" stroke="#1e1e1e" stroke-width="1"/>
<text x="259.9" y="499.4" font-size="7.6" text-anchor="start" font-weight="normal" fill="#1e1e1e" color="#1e1e1e" textLength="74.5" lengthAdjust="spacingAndGlyphs" style="stroke-width:0.1px">IACS (+) ICAM-1 Ab (+)</text>
<text x="355.8" y="448.5" font-size="9.7" text-anchor="start" font-weight="normal" fill="#1e1e1e" color="#1e1e1e" textLength="43" lengthAdjust="spacingAndGlyphs">OCI-AML3</text>
<line x1="415.5" y1="478.7" x2="415.5" y2="639.2" stroke="#1e1e1e" stroke-width="1.2"/>
<line x1="412.7" y1="638.6" x2="482.7" y2="638.6" stroke="#1e1e1e" stroke-width="1.3"/>
<line x1="412.3" y1="638.8" x2="415.6" y2="638.8" stroke="#1e1e1e" stroke-width="1"/>
<text x="410.6" y="640.9" font-size="5.8" text-anchor="end" font-weight="normal" fill="#333" color="#333">0</text>
<line x1="412.3" y1="603.175" x2="415.6" y2="603.175" stroke="#1e1e1e" stroke-width="1"/>
<text x="410.6" y="605.275" font-size="5.8" text-anchor="end" font-weight="normal" fill="#333" color="#333" textLength="10.4" lengthAdjust="spacingAndGlyphs">100</text>
<line x1="412.3" y1="567.55" x2="415.6" y2="567.55" stroke="#1e1e1e" stroke-width="1"/>
<text x="410.6" y="569.65" font-size="5.8" text-anchor="end" font-weight="normal" fill="#333" color="#333" textLength="10.4" lengthAdjust="spacingAndGlyphs">200</text>
<line x1="412.3" y1="531.925" x2="415.6" y2="531.925" stroke="#1e1e1e" stroke-width="1"/>
<text x="410.6" y="534.025" font-size="5.8" text-anchor="end" font-weight="normal" fill="#333" color="#333" textLength="10.4" lengthAdjust="spacingAndGlyphs">300</text>
<line x1="412.3" y1="496.3" x2="415.6" y2="496.3" stroke="#1e1e1e" stroke-width="1"/>
<text x="410.6" y="498.40000000000003" font-size="5.8" text-anchor="end" font-weight="normal" fill="#333" color="#333" textLength="10.4" lengthAdjust="spacingAndGlyphs">400</text>
<rect x="419.0" y="502.2" width="9.300000000000011" height="136.59999999999997" fill="#C3142E" stroke="#1e1e1e" stroke-width="1"/>
<line x1="423.5" y1="496.4" x2="423.5" y2="506.2" stroke="#151515" stroke-width="1.1"/>
<line x1="421.2" y1="496.4" x2="425.8" y2="496.4" stroke="#151515" stroke-width="1.1"/>
<line x1="421.2" y1="506.2" x2="425.8" y2="506.2" stroke="#151515" stroke-width="1.1"/>
<rect x="435.7" y="508.6" width="9.400000000000034" height="130.19999999999993" fill="#0E5182" stroke="#1e1e1e" stroke-width="1"/>
<line x1="440.5" y1="491.5" x2="440.5" y2="524.2" stroke="#151515" stroke-width="1.1"/>
<line x1="438.2" y1="491.5" x2="442.8" y2="491.5" stroke="#151515" stroke-width="1.1"/>
<line x1="438.2" y1="524.2" x2="442.8" y2="524.2" stroke="#151515" stroke-width="1.1"/>
<rect x="452.0" y="544.7" width="9.600000000000023" height="94.09999999999991" fill="#3AB34D" stroke="#1e1e1e" stroke-width="1"/>
<line x1="456.5" y1="540.6" x2="456.5" y2="548.3" stroke="#151515" stroke-width="1.1"/>
<line x1="454.2" y1="540.6" x2="458.8" y2="540.6" stroke="#151515" stroke-width="1.1"/>
<line x1="454.2" y1="548.3" x2="458.8" y2="548.3" stroke="#151515" stroke-width="1.1"/>
<rect x="468.8" y="574.0" width="9.399999999999977" height="64.79999999999995" fill="#5A286C" stroke="#1e1e1e" stroke-width="1"/>
<line x1="473.5" y1="564.2" x2="473.5" y2="582.7" stroke="#151515" stroke-width="1.1"/>
<line x1="471.2" y1="564.2" x2="475.8" y2="564.2" stroke="#151515" stroke-width="1.1"/>
<line x1="471.2" y1="582.7" x2="475.8" y2="582.7" stroke="#151515" stroke-width="1.1"/>
<line x1="426" y1="478.0" x2="456.7" y2="478.0" stroke="#444" stroke-width="1.4"/>
<line x1="463.7" y1="479.9" x2="480" y2="479.9" stroke="#444" stroke-width="1.4"/>
<path d="M438.70,470.60 L439.26,471.73 L440.51,471.91 L439.60,472.79 L439.82,474.04 L438.70,473.45 L437.58,474.04 L437.80,472.79 L436.89,471.91 L438.14,471.73 Z" fill="#111"/>
<path d="M442.70,470.60 L443.26,471.73 L444.51,471.91 L443.60,472.79 L443.82,474.04 L442.70,473.45 L441.58,474.04 L441.80,472.79 L440.89,471.91 L442.14,471.73 Z" fill="#111"/>
<path d="M470.90,472.60 L471.46,473.73 L472.71,473.91 L471.80,474.79 L472.02,476.04 L470.90,475.45 L469.78,476.04 L470.00,474.79 L469.09,473.91 L470.34,473.73 Z" fill="#111"/>
<text transform="translate(395.4,559.5) rotate(-90)" font-size="7.9" text-anchor="middle" font-weight="normal" fill="#1e1e1e" color="#1e1e1e" textLength="45.5" lengthAdjust="spacingAndGlyphs">OCR (pmol / min)</text>
<text x="412.2" y="648.2" font-size="5.8" text-anchor="end" font-weight="normal" fill="#1e1e1e" color="#1e1e1e" textLength="14" lengthAdjust="spacingAndGlyphs">IACS</text>
<text x="412.2" y="657.4" font-size="5.8" text-anchor="end" font-weight="normal" fill="#1e1e1e" color="#1e1e1e" textLength="30" lengthAdjust="spacingAndGlyphs">ICAM-1 Ab</text>
<text x="423.4" y="648.6" font-size="6.5" text-anchor="middle" font-weight="normal" fill="#333" color="#333">-</text>
<text x="423.4" y="657.8" font-size="6.5" text-anchor="middle" font-weight="normal" fill="#333" color="#333">-</text>
<text x="440.1" y="648.6" font-size="6.5" text-anchor="middle" font-weight="normal" fill="#333" color="#333">-</text>
<text x="440.1" y="657.8" font-size="6.5" text-anchor="middle" font-weight="normal" fill="#333" color="#333">+</text>
<text x="456.7" y="648.6" font-size="6.5" text-anchor="middle" font-weight="normal" fill="#333" color="#333">+</text>
<text x="456.7" y="657.8" font-size="6.5" text-anchor="middle" font-weight="normal" fill="#333" color="#333">-</text>
<text x="473.3" y="648.6" font-size="6.5" text-anchor="middle" font-weight="normal" fill="#333" color="#333">+</text>
<text x="473.3" y="657.8" font-size="6.5" text-anchor="middle" font-weight="normal" fill="#333" color="#333">+</text>
<rect x="0.75" y="0.75" width="518.5" height="667.5" fill="none" stroke="#000" stroke-width="1.5"/>
</svg></body></html>
